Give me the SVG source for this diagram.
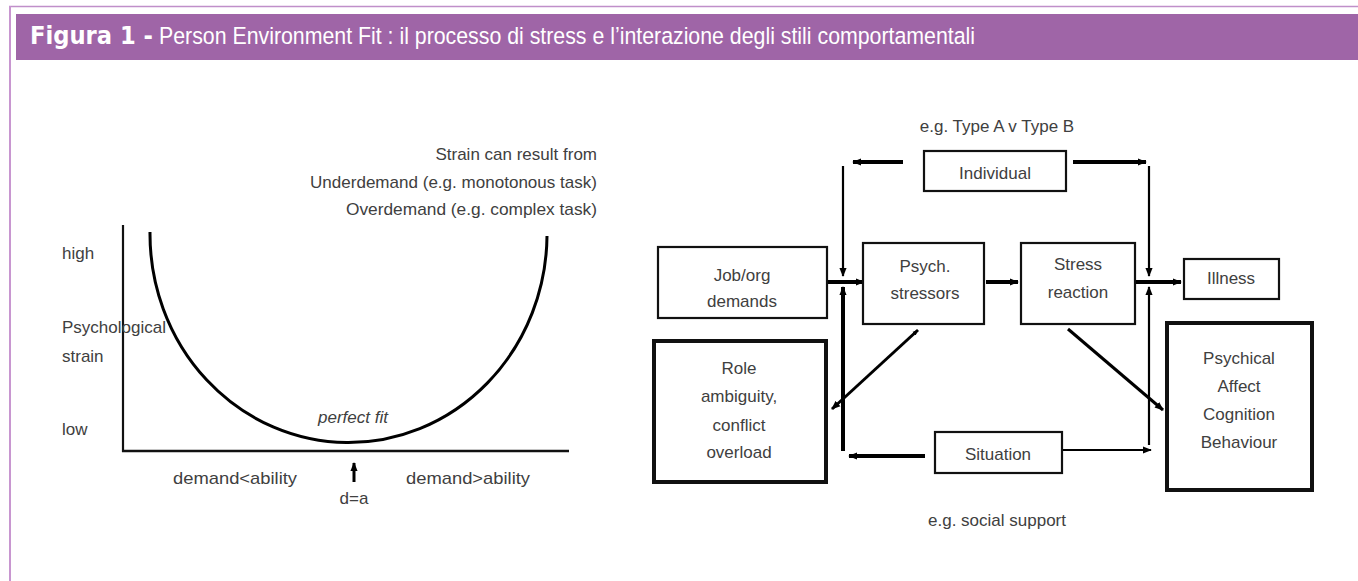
<svg xmlns="http://www.w3.org/2000/svg" width="1358" height="581" viewBox="0 0 1358 581">
<style>
.t{font-family:"Liberation Sans",Arial,sans-serif;fill:#404040;font-size:17px}
.c{text-anchor:middle}
.r{text-anchor:end}
.box{fill:#fff;stroke:#111;stroke-width:2.2}
.tbox{fill:#fff;stroke:#111;stroke-width:4}
.thick{stroke:#000;stroke-width:4;fill:none}
.thin{stroke:#000;stroke-width:2.2;fill:none}
</style>
<defs>
<marker id="ah" viewBox="0 0 10 10" refX="9" refY="5" markerWidth="9" markerHeight="9" markerUnits="userSpaceOnUse" orient="auto">
<path d="M0,1 L10,5 L0,9 z" fill="#000"/>
</marker>
<marker id="ahs" viewBox="0 0 10 10" refX="9" refY="5" markerWidth="6" markerHeight="6" markerUnits="userSpaceOnUse" orient="auto-start-reverse">
<path d="M0,1 L10,5 L0,9 z" fill="#000"/>
</marker>
</defs>
<rect width="1358" height="581" fill="#fff"/>
<!-- frame -->
<line x1="9" y1="6.5" x2="1358" y2="6.5" stroke="#c08fc9" stroke-width="1.5"/>
<line x1="10" y1="6" x2="10" y2="581" stroke="#c896d0" stroke-width="2"/>
<rect x="16" y="14" width="1342" height="46" fill="#9f65a7"/>
<text x="30" y="44" font-family="'DejaVu Sans',Verdana,sans-serif" font-weight="bold" font-size="24" fill="#fff" textLength="123" lengthAdjust="spacingAndGlyphs">Figura 1 -</text>
<text x="159" y="44" font-family="'Liberation Sans',Arial,sans-serif" font-size="24.5" fill="#fff" textLength="816" lengthAdjust="spacingAndGlyphs">Person Environment Fit : il processo di stress e l’interazione degli stili comportamentali</text>

<!-- left chart -->
<g id="chart">
<line x1="123" y1="225" x2="123" y2="452" stroke="#111" stroke-width="2.2"/>
<line x1="122" y1="451" x2="569" y2="451" stroke="#111" stroke-width="2.5"/>
<path d="M150,232 A198,208 0 0 0 547,236" fill="none" stroke="#000" stroke-width="3"/>
<text class="t" x="62" y="259" font-size="16">high</text>
<text class="t" x="62" y="333" font-size="16">Psychological</text>
<text class="t" x="62" y="362" font-size="16">strain</text>
<text class="t" x="62" y="435" font-size="16">low</text>
<text class="t r" x="597" y="160" font-size="16.5">Strain can result from</text>
<text class="t r" x="597" y="188" font-size="16.5" textLength="287" lengthAdjust="spacingAndGlyphs">Underdemand (e.g. monotonous task)</text>
<text class="t r" x="597" y="215" font-size="16.5" textLength="251" lengthAdjust="spacingAndGlyphs">Overdemand (e.g. complex task)</text>
<text class="t c" x="353" y="423" font-size="16.5" font-style="italic">perfect fit</text>
<text class="t" x="173" y="484" font-size="16.5" textLength="124" lengthAdjust="spacingAndGlyphs">demand&lt;ability</text>
<text class="t" x="406" y="484" font-size="16.5" textLength="124" lengthAdjust="spacingAndGlyphs">demand&gt;ability</text>
<line x1="354" y1="482" x2="354" y2="463" stroke="#000" stroke-width="3" marker-end="url(#ah)"/>
<text class="t c" x="354" y="504" font-size="16.5">d=a</text>
</g>

<!-- right diagram -->
<text class="t c" x="997" y="132">e.g. Type A v Type B</text>
<text class="t c" x="997" y="526">e.g. social support</text>

<g id="connectors">
<line class="thick" x1="903" y1="162" x2="853" y2="162" marker-end="url(#ah)"/>
<line class="thick" x1="1073" y1="162" x2="1146" y2="162" marker-end="url(#ah)"/>
<line class="thin" x1="843" y1="166" x2="843" y2="276" marker-end="url(#ah)"/>
<line class="thin" x1="1149" y1="166" x2="1149" y2="276" marker-end="url(#ah)"/>
<line class="thick" x1="827" y1="282" x2="864" y2="282" marker-end="url(#ah)"/>
<line class="thick" x1="986" y1="282" x2="1018" y2="282" marker-end="url(#ah)"/>
<line class="thick" x1="1136" y1="282" x2="1181" y2="282" marker-end="url(#ah)"/>
<line class="thick" x1="843" y1="451" x2="843" y2="287" marker-end="url(#ah)"/>
<line class="thin" x1="1149" y1="445" x2="1149" y2="287" marker-end="url(#ah)"/>
<line class="thick" x1="925" y1="456" x2="849" y2="456" marker-end="url(#ah)"/>
<line class="thin" x1="1062" y1="450" x2="1151" y2="450" marker-end="url(#ah)"/>
<line x1="918" y1="330" x2="832" y2="409" stroke="#000" stroke-width="3" marker-start="url(#ahs)" marker-end="url(#ah)"/>
<line x1="1068" y1="329" x2="1163" y2="410" stroke="#000" stroke-width="3" marker-end="url(#ah)"/>
</g>

<g id="individual">
<rect class="box" x="924" y="151" width="142" height="40"/>
<text class="t c" x="995" y="179" font-size="17.5">Individual</text>
</g>
<g id="job">
<rect class="box" x="658" y="247" width="169" height="71"/>
<text class="t c" x="742" y="281" font-size="17.5">Job/org</text>
<text class="t c" x="742" y="307" font-size="17.5">demands</text>
</g>
<g id="psych">
<rect class="box" x="863" y="243" width="121" height="81"/>
<text class="t c" x="925" y="272" font-size="17.5">Psych.</text>
<text class="t c" x="925" y="299" font-size="17.5">stressors</text>
</g>
<g id="stress">
<rect class="box" x="1021" y="243" width="114" height="81"/>
<text class="t c" x="1078" y="270" font-size="17.5">Stress</text>
<text class="t c" x="1078" y="298" font-size="17.5">reaction</text>
</g>
<g id="illness">
<rect class="box" x="1184" y="259" width="95" height="40"/>
<text class="t c" x="1231" y="284" font-size="17.5">Illness</text>
</g>
<g id="role">
<rect class="tbox" x="654" y="341" width="172" height="141"/>
<text class="t c" x="739" y="374" font-size="17.5">Role</text>
<text class="t c" x="739" y="402" font-size="17.5">ambiguity,</text>
<text class="t c" x="739" y="431" font-size="17.5">conflict</text>
<text class="t c" x="739" y="458" font-size="17.5">overload</text>
</g>
<g id="situation">
<rect class="box" x="935" y="432" width="127" height="41"/>
<text class="t c" x="998" y="460" font-size="17.5">Situation</text>
</g>
<g id="psychical">
<rect class="tbox" x="1167" y="323" width="145" height="167"/>
<text class="t c" x="1239" y="364" font-size="17.5">Psychical</text>
<text class="t c" x="1239" y="392" font-size="17.5">Affect</text>
<text class="t c" x="1239" y="420" font-size="17.5">Cognition</text>
<text class="t c" x="1239" y="448" font-size="17.5">Behaviour</text>
</g>
</svg>
